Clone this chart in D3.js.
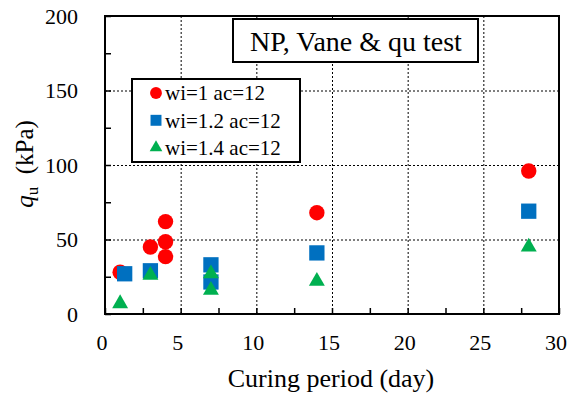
<!DOCTYPE html>
<html>
<head>
<meta charset="utf-8">
<script src="https://cdn.jsdelivr.net/npm/d3@7"></script>
<style>
  body { margin: 0; background: #fff; }
  svg text { font-family: 'Liberation Serif', 'DejaVu Serif', 'Times New Roman', serif; }
</style>
</head>
<body>
<div id="chart"></div>
<script>
// data
var days1 = [1, 3, 4, 4, 4, 14, 28];
var qu1 = [28, 45, 62, 48.5, 38.5, 68, 96];
var days2 = [1.3, 3, 7, 7, 14, 28];
var qu2 = [27, 29, 33, 21.5, 41, 69];
var days3 = [1, 3, 7, 7, 14, 28];
var qu3 = [7, 26, 27, 16, 22, 45];
var seriesNames = ["wi=1 ac=12", "wi=1.2 ac=12", "wi=1.4 ac=12"];
var xTicks = [0, 5, 10, 15, 20, 25, 30];
var yTicks = [0, 50, 100, 150, 200];

let width = 571;
let height = 396;
var margin = {top: 16, right: 12, bottom: 82, left: 105};
var colors = ["#ff0000", "#0070c0", "#00b050"];
var shapes = [d3.symbolCircle, d3.symbolSquare, d3.symbolTriangle];
var sizes = [186, 234, 110];

var w = width - margin.left - margin.right;
var h = height - margin.top - margin.bottom;

var svg = d3.select("#chart").append("svg")
    .attr("width", width)
    .attr("height", height);

var g = svg.append("g")
    .attr("transform", "translate(" + margin.left + "," + margin.top + ")");

var x = d3.scaleLinear().domain([0, 30]).range([0, w]);
var y = d3.scaleLinear().domain([0, 200]).range([h, 0]);

// dashed grid
g.append("g")
    .attr("transform", "translate(0," + h + ")")
    .call(d3.axisBottom(x).tickValues(xTicks.slice(1, -1)).tickSize(-h).tickFormat(""))
    .call(function(s) {
        s.select(".domain").remove();
        s.selectAll("line").attr("stroke", "#000").attr("stroke-dasharray", "2,2");
    });
g.append("g")
    .call(d3.axisLeft(y).tickValues(yTicks.slice(1, -1)).tickSize(-w).tickFormat(""))
    .call(function(s) {
        s.select(".domain").remove();
        s.selectAll("line").attr("stroke", "#000").attr("stroke-dasharray", "2,2");
    });

// inward ticks (major + minor)
g.append("g")
    .attr("transform", "translate(0," + h + ")")
    .call(d3.axisBottom(x).tickValues(d3.range(0, 30.1, 2.5)).tickSize(-6).tickFormat(""))
    .call(function(s) {
        s.select(".domain").remove();
        s.selectAll("line").attr("stroke", "#000").attr("stroke-width", 1.5);
    });
g.append("g")
    .call(d3.axisLeft(y).tickValues(d3.range(0, 200.1, 25)).tickSize(-6).tickFormat(""))
    .call(function(s) {
        s.select(".domain").remove();
        s.selectAll("line").attr("stroke", "#000").attr("stroke-width", 1.5);
    });

// tick labels
g.selectAll(".xlab")
    .data(xTicks)
    .enter().append("text")
    .attr("x", function(d) { return x(d) - 3; })
    .attr("y", h + 36)
    .attr("text-anchor", "middle")
    .style("font-size", "22px")
    .text(function(d) { return d; });

g.selectAll(".ylab")
    .data(yTicks)
    .enter().append("text")
    .attr("x", -27)
    .attr("y", function(d) { return y(d); })
    .attr("dy", "0.35em")
    .attr("text-anchor", "end")
    .style("font-size", "22px")
    .text(function(d) { return d; });

// frame
g.append("rect")
    .attr("width", w)
    .attr("height", h)
    .attr("fill", "none")
    .attr("stroke", "#000")
    .attr("stroke-width", 2);

// points
var data = [
    days1.map(function(d, i) { return {x: d, y: qu1[i]}; }),
    days2.map(function(d, i) { return {x: d, y: qu2[i]}; }),
    days3.map(function(d, i) { return {x: d, y: qu3[i]}; })
];

data.forEach(function(pts, k) {
    g.selectAll(".s" + k)
        .data(pts)
        .enter().append("path")
        .attr("d", d3.symbol().type(shapes[k]).size(sizes[k]))
        .attr("transform", function(d) { return "translate(" + x(d.x) + "," + y(d.y) + ")"; })
        .attr("fill", colors[k]);
});

// title box
svg.append("rect")
    .attr("x", 233).attr("y", 19)
    .attr("width", 245).attr("height", 43)
    .attr("fill", "#fff")
    .attr("stroke", "#000")
    .attr("stroke-width", 2);
svg.append("text")
    .attr("x", 356).attr("y", 51)
    .attr("text-anchor", "middle")
    .style("font-size", "28px")
    .text("NP, Vane & qu test");

// legend
svg.append("rect")
    .attr("x", 132).attr("y", 79)
    .attr("width", 168).attr("height", 83)
    .attr("fill", "#fff")
    .attr("stroke", "#000")
    .attr("stroke-width", 2);

var legSizes = [110, 120, 70];
seriesNames.forEach(function(name, k) {
    var ly = 93 + k * 27.3;
    svg.append("path")
        .attr("d", d3.symbol().type(shapes[k]).size(legSizes[k]))
        .attr("transform", "translate(156," + ly + ")")
        .attr("fill", colors[k]);
    svg.append("text")
        .attr("x", 165).attr("y", ly)
        .attr("dy", "0.35em")
        .style("font-size", "21px")
        .text(name);
});

// axis titles
svg.append("text")
    .attr("x", 331).attr("y", 387)
    .attr("text-anchor", "middle")
    .style("font-size", "26px")
    .text("Curing period (day)");

var yt = svg.append("text")
    .attr("transform", "translate(33,164) rotate(-90)")
    .attr("text-anchor", "middle")
    .style("font-size", "25px");
yt.append("tspan").style("font-style", "italic").text("q");
yt.append("tspan").attr("dy", 5).style("font-size", "17px").text("u");
yt.append("tspan").attr("dy", -5).text("\u00a0\u00a0(kPa)");
</script>
</body>
</html>
